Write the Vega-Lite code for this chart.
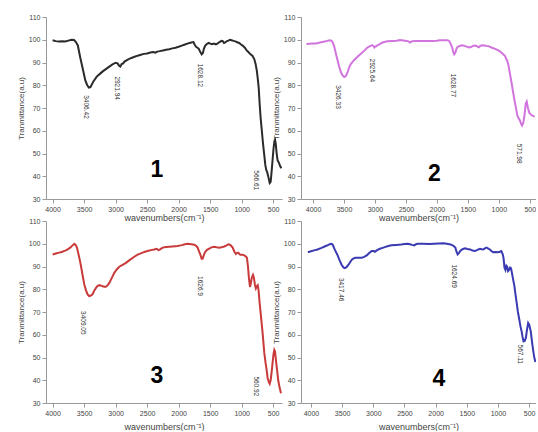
{
  "$schema": "https://vega.github.io/schema/vega-lite/v6.json",
  "background": "white",
  "padding": {"left": 17, "top": 13, "right": 0, "bottom": 0},
  "config": {
    "view": {"stroke": null},
    "font": "Liberation Sans",
    "axis": {"labelFont": "Liberation Sans", "titleFont": "Liberation Sans", "labelFontSize": 7, "labelColor": "#444", "titleColor": "#444", "titleFontWeight": "normal", "domainColor": "#999", "tickColor": "#999", "tickSize": 4, "grid": false, "labelFlush": false, "format": "d"}
  },
  "datasets": {
    "p1": [
      {"wn":4000,"t":99.8},{"wn":3950,"t":99.4},{"wn":3900,"t":99.2},{"wn":3850,"t":99.3},{"wn":3800,"t":99.2},{"wn":3750,"t":99.6},{"wn":3700,"t":100},{"wn":3660,"t":99.9},{"wn":3630,"t":99},{"wn":3600,"t":97.5},{"wn":3560,"t":92},{"wn":3520,"t":87},{"wn":3480,"t":82},{"wn":3450,"t":80},{"wn":3425,"t":79},{"wn":3400,"t":79.2},{"wn":3380,"t":80.2},{"wn":3350,"t":81.8},{"wn":3300,"t":83.8},{"wn":3250,"t":85},{"wn":3200,"t":86.2},{"wn":3150,"t":87.2},{"wn":3100,"t":88.2},{"wn":3050,"t":89.2},{"wn":3000,"t":89.9},{"wn":2970,"t":89.6},{"wn":2945,"t":88.6},{"wn":2925,"t":88.2},{"wn":2905,"t":89.3},{"wn":2880,"t":89.6},{"wn":2860,"t":90.4},{"wn":2800,"t":91.4},{"wn":2750,"t":92},{"wn":2700,"t":92.5},{"wn":2650,"t":93},{"wn":2600,"t":93.4},{"wn":2550,"t":93.8},{"wn":2500,"t":94},{"wn":2450,"t":94.4},{"wn":2400,"t":94.6},{"wn":2370,"t":94.3},{"wn":2340,"t":94.8},{"wn":2300,"t":95},{"wn":2250,"t":95.3},{"wn":2200,"t":95.6},{"wn":2150,"t":95.8},{"wn":2100,"t":96.2},{"wn":2050,"t":96.5},{"wn":2000,"t":96.9},{"wn":1950,"t":97.4},{"wn":1900,"t":97.9},{"wn":1850,"t":98.4},{"wn":1800,"t":98.8},{"wn":1765,"t":99},{"wn":1745,"t":97.8},{"wn":1720,"t":96.8},{"wn":1700,"t":96.5},{"wn":1680,"t":96},{"wn":1660,"t":94.8},{"wn":1635,"t":93.6},{"wn":1615,"t":94.2},{"wn":1600,"t":96},{"wn":1580,"t":97.3},{"wn":1550,"t":98.2},{"wn":1520,"t":98.6},{"wn":1500,"t":98.3},{"wn":1470,"t":98},{"wn":1440,"t":98.3},{"wn":1410,"t":98},{"wn":1380,"t":98.4},{"wn":1350,"t":99},{"wn":1320,"t":99.5},{"wn":1300,"t":99.4},{"wn":1280,"t":98.6},{"wn":1260,"t":98.8},{"wn":1240,"t":99.3},{"wn":1210,"t":99.6},{"wn":1185,"t":100},{"wn":1160,"t":99.8},{"wn":1130,"t":99.5},{"wn":1100,"t":99.3},{"wn":1070,"t":98.9},{"wn":1040,"t":98.6},{"wn":1010,"t":97.9},{"wn":980,"t":97.3},{"wn":950,"t":96.5},{"wn":920,"t":95.3},{"wn":890,"t":94.5},{"wn":860,"t":93.6},{"wn":830,"t":93},{"wn":800,"t":91.5},{"wn":780,"t":89.5},{"wn":760,"t":86.5},{"wn":745,"t":83},{"wn":730,"t":79},{"wn":715,"t":72},{"wn":700,"t":66},{"wn":680,"t":60},{"wn":660,"t":54},{"wn":640,"t":49},{"wn":625,"t":45},{"wn":610,"t":42.8},{"wn":595,"t":41.8},{"wn":575,"t":39.5},{"wn":555,"t":37},{"wn":540,"t":37.5},{"wn":525,"t":42},{"wn":510,"t":47},{"wn":495,"t":52},{"wn":480,"t":55.5},{"wn":470,"t":56},{"wn":458,"t":54},{"wn":445,"t":50},{"wn":430,"t":47},{"wn":410,"t":46},{"wn":390,"t":44.5},{"wn":370,"t":43.5}
    ],
    "p2": [
      {"wn":4106,"t":98.1},{"wn":4050,"t":98.2},{"wn":4000,"t":98.3},{"wn":3950,"t":98.4},{"wn":3920,"t":98.6},{"wn":3870,"t":98.9},{"wn":3815,"t":99.2},{"wn":3770,"t":99.5},{"wn":3735,"t":99.8},{"wn":3705,"t":99.6},{"wn":3682,"t":98.8},{"wn":3655,"t":96.8},{"wn":3629,"t":93.7},{"wn":3600,"t":90.5},{"wn":3576,"t":88},{"wn":3550,"t":85.8},{"wn":3523,"t":84.3},{"wn":3497,"t":83.6},{"wn":3470,"t":84},{"wn":3445,"t":85.5},{"wn":3417,"t":87.8},{"wn":3390,"t":89.3},{"wn":3338,"t":91},{"wn":3290,"t":92.3},{"wn":3232,"t":93.7},{"wn":3180,"t":95},{"wn":3126,"t":96.5},{"wn":3080,"t":97.2},{"wn":3046,"t":97.6},{"wn":3025,"t":97.3},{"wn":3009,"t":96.6},{"wn":2990,"t":97},{"wn":2967,"t":97.4},{"wn":2930,"t":98},{"wn":2887,"t":98.7},{"wn":2820,"t":99.2},{"wn":2755,"t":99.4},{"wn":2700,"t":99.5},{"wn":2650,"t":99.6},{"wn":2596,"t":99.9},{"wn":2540,"t":99.7},{"wn":2490,"t":99.5},{"wn":2460,"t":99.3},{"wn":2437,"t":98.8},{"wn":2410,"t":99.2},{"wn":2357,"t":99.5},{"wn":2300,"t":99.5},{"wn":2200,"t":99.4},{"wn":2100,"t":99.5},{"wn":2066,"t":99.4},{"wn":2000,"t":99.6},{"wn":1960,"t":99.8},{"wn":1900,"t":99.8},{"wn":1827,"t":99.8},{"wn":1800,"t":99.4},{"wn":1774,"t":98},{"wn":1750,"t":96.3},{"wn":1735,"t":94.5},{"wn":1721,"t":93.6},{"wn":1700,"t":94.5},{"wn":1685,"t":96},{"wn":1668,"t":96.7},{"wn":1640,"t":97.2},{"wn":1600,"t":97.6},{"wn":1562,"t":97.4},{"wn":1520,"t":97},{"wn":1483,"t":96.6},{"wn":1450,"t":96.8},{"wn":1420,"t":97.3},{"wn":1377,"t":97.5},{"wn":1350,"t":97.1},{"wn":1324,"t":96.7},{"wn":1300,"t":97.3},{"wn":1271,"t":97.6},{"wn":1230,"t":97.5},{"wn":1200,"t":97.3},{"wn":1165,"t":97.2},{"wn":1120,"t":96.6},{"wn":1059,"t":96},{"wn":1000,"t":95.2},{"wn":950,"t":94.2},{"wn":900,"t":92.8},{"wn":870,"t":91},{"wn":850,"t":89.5},{"wn":820,"t":85},{"wn":794,"t":81},{"wn":770,"t":77},{"wn":741,"t":72.5},{"wn":720,"t":69.5},{"wn":700,"t":66.5},{"wn":680,"t":65.5},{"wn":660,"t":64.5},{"wn":640,"t":63},{"wn":625,"t":62.3},{"wn":605,"t":63.5},{"wn":585,"t":67},{"wn":565,"t":72},{"wn":550,"t":72.8},{"wn":530,"t":70},{"wn":510,"t":68},{"wn":480,"t":67},{"wn":450,"t":66.5},{"wn":420,"t":66.2}
    ],
    "p3": [
      {"wn":4000,"t":95.3},{"wn":3950,"t":95.7},{"wn":3900,"t":96.1},{"wn":3868,"t":96.3},{"wn":3800,"t":97},{"wn":3762,"t":97.5},{"wn":3720,"t":98.3},{"wn":3683,"t":99.3},{"wn":3656,"t":100},{"wn":3635,"t":99.5},{"wn":3614,"t":98.3},{"wn":3590,"t":95.5},{"wn":3570,"t":93},{"wn":3550,"t":90.2},{"wn":3520,"t":85.5},{"wn":3497,"t":82.1},{"wn":3470,"t":79.5},{"wn":3445,"t":77.7},{"wn":3420,"t":77},{"wn":3400,"t":77.1},{"wn":3380,"t":77.5},{"wn":3365,"t":77.9},{"wn":3340,"t":79.3},{"wn":3312,"t":80.6},{"wn":3285,"t":81.5},{"wn":3259,"t":81.8},{"wn":3230,"t":81.6},{"wn":3206,"t":81.3},{"wn":3180,"t":81.1},{"wn":3154,"t":81.1},{"wn":3125,"t":81.8},{"wn":3101,"t":82.8},{"wn":3060,"t":85},{"wn":3021,"t":87.2},{"wn":2980,"t":88.8},{"wn":2942,"t":89.9},{"wn":2890,"t":90.7},{"wn":2836,"t":91.6},{"wn":2780,"t":92.8},{"wn":2704,"t":94.3},{"wn":2650,"t":95.2},{"wn":2600,"t":95.8},{"wn":2545,"t":96.4},{"wn":2480,"t":96.9},{"wn":2420,"t":97.3},{"wn":2387,"t":97.5},{"wn":2350,"t":97.8},{"wn":2320,"t":97.2},{"wn":2300,"t":97.4},{"wn":2254,"t":98.3},{"wn":2200,"t":98.6},{"wn":2100,"t":98.8},{"wn":2016,"t":99},{"wn":1950,"t":99.4},{"wn":1900,"t":99.8},{"wn":1858,"t":100},{"wn":1800,"t":99.8},{"wn":1752,"t":99.6},{"wn":1720,"t":99},{"wn":1699,"t":98.3},{"wn":1675,"t":96.5},{"wn":1657,"t":95.3},{"wn":1635,"t":93.4},{"wn":1620,"t":93.4},{"wn":1600,"t":95},{"wn":1582,"t":96.3},{"wn":1550,"t":97.3},{"wn":1514,"t":97.9},{"wn":1480,"t":98.4},{"wn":1434,"t":98.7},{"wn":1400,"t":98.5},{"wn":1355,"t":98.3},{"wn":1320,"t":98.5},{"wn":1276,"t":98.8},{"wn":1240,"t":99.3},{"wn":1210,"t":99.8},{"wn":1196,"t":99.7},{"wn":1170,"t":99.2},{"wn":1143,"t":98.3},{"wn":1115,"t":96.5},{"wn":1091,"t":95.5},{"wn":1070,"t":96},{"wn":1053,"t":96},{"wn":1035,"t":95.5},{"wn":1022,"t":95.2},{"wn":990,"t":95.2},{"wn":958,"t":94.9},{"wn":930,"t":94.3},{"wn":916,"t":93.8},{"wn":900,"t":90},{"wn":885,"t":85},{"wn":868,"t":81},{"wn":855,"t":82.5},{"wn":840,"t":85},{"wn":820,"t":86.3},{"wn":805,"t":85},{"wn":790,"t":82},{"wn":775,"t":80.4},{"wn":762,"t":81.3},{"wn":745,"t":81.8},{"wn":732,"t":79.5},{"wn":715,"t":74},{"wn":694,"t":68.2},{"wn":670,"t":61.5},{"wn":641,"t":52},{"wn":620,"t":47.5},{"wn":604,"t":44.6},{"wn":588,"t":41},{"wn":570,"t":39.3},{"wn":555,"t":38.5},{"wn":540,"t":40},{"wn":525,"t":43.5},{"wn":510,"t":47.5},{"wn":495,"t":51.5},{"wn":482,"t":53.3},{"wn":470,"t":52.5},{"wn":455,"t":48.5},{"wn":440,"t":45},{"wn":420,"t":40},{"wn":400,"t":37},{"wn":376,"t":34.3}
    ],
    "p4": [
      {"wn":4050,"t":96.3},{"wn":4000,"t":96.7},{"wn":3950,"t":97.1},{"wn":3895,"t":97.5},{"wn":3830,"t":98.2},{"wn":3763,"t":99},{"wn":3720,"t":99.5},{"wn":3684,"t":100},{"wn":3660,"t":99.8},{"wn":3647,"t":99.3},{"wn":3620,"t":97.5},{"wn":3579,"t":95.3},{"wn":3545,"t":93},{"wn":3511,"t":90.9},{"wn":3480,"t":89.6},{"wn":3458,"t":89.3},{"wn":3430,"t":89.7},{"wn":3395,"t":90.9},{"wn":3370,"t":92},{"wn":3342,"t":93.1},{"wn":3315,"t":93.6},{"wn":3289,"t":93.8},{"wn":3240,"t":93.8},{"wn":3184,"t":93.8},{"wn":3140,"t":94.3},{"wn":3105,"t":94.9},{"wn":3060,"t":96},{"wn":3026,"t":96.8},{"wn":2995,"t":96.8},{"wn":2974,"t":96.5},{"wn":2940,"t":97.2},{"wn":2895,"t":97.8},{"wn":2850,"t":98.2},{"wn":2816,"t":98.5},{"wn":2760,"t":99},{"wn":2711,"t":99.3},{"wn":2630,"t":99.5},{"wn":2553,"t":99.7},{"wn":2500,"t":99.9},{"wn":2447,"t":100},{"wn":2410,"t":99.8},{"wn":2380,"t":99.5},{"wn":2342,"t":99.3},{"wn":2315,"t":99.8},{"wn":2289,"t":100},{"wn":2200,"t":100},{"wn":2100,"t":99.9},{"wn":2026,"t":100},{"wn":1950,"t":100.1},{"wn":1868,"t":100.2},{"wn":1800,"t":99.9},{"wn":1763,"t":99.7},{"wn":1720,"t":99.2},{"wn":1684,"t":98.3},{"wn":1665,"t":96.5},{"wn":1647,"t":95.3},{"wn":1625,"t":96},{"wn":1605,"t":96.8},{"wn":1570,"t":97.6},{"wn":1526,"t":98},{"wn":1490,"t":97.7},{"wn":1447,"t":97.5},{"wn":1410,"t":97},{"wn":1368,"t":96.8},{"wn":1330,"t":97.3},{"wn":1289,"t":97.8},{"wn":1260,"t":97.6},{"wn":1237,"t":97.5},{"wn":1210,"t":98},{"wn":1184,"t":98.3},{"wn":1160,"t":98},{"wn":1132,"t":97.5},{"wn":1105,"t":96.8},{"wn":1079,"t":96.3},{"wn":1040,"t":96.4},{"wn":1000,"t":96.3},{"wn":970,"t":96.5},{"wn":947,"t":96.8},{"wn":925,"t":95.5},{"wn":911,"t":93.8},{"wn":895,"t":89.5},{"wn":880,"t":88.5},{"wn":865,"t":90.3},{"wn":850,"t":89.8},{"wn":838,"t":88},{"wn":822,"t":88.5},{"wn":805,"t":89.5},{"wn":790,"t":89.2},{"wn":775,"t":87},{"wn":755,"t":84},{"wn":737,"t":81.5},{"wn":720,"t":78},{"wn":700,"t":74},{"wn":680,"t":70},{"wn":658,"t":66.7},{"wn":640,"t":63.8},{"wn":621,"t":61.5},{"wn":605,"t":59},{"wn":590,"t":57.1},{"wn":572,"t":57.3},{"wn":553,"t":58.6},{"wn":535,"t":62},{"wn":516,"t":65.2},{"wn":500,"t":64.5},{"wn":474,"t":61.5},{"wn":450,"t":56},{"wn":421,"t":50.5},{"wn":400,"t":48}
    ],
    "peaks": [
      {"panel":1,"wn":3471,"t":75.6,"label":"3406.42"},
      {"panel":1,"wn":2984,"t":83.9,"label":"2921.94"},
      {"panel":1,"wn":1662,"t":89.5,"label":"1628.12"},
      {"panel":1,"wn":773,"t":42.6,"label":"566.61"},
      {"panel":2,"wn":3592,"t":80,"label":"3426.33"},
      {"panel":2,"wn":3046,"t":91.7,"label":"2925.64"},
      {"panel":2,"wn":1737,"t":85.1,"label":"1628.77"},
      {"panel":2,"wn":677,"t":54.3,"label":"571.98"},
      {"panel":3,"wn":3524,"t":70.4,"label":"3409.05"},
      {"panel":3,"wn":1662,"t":85.8,"label":"1626.9"},
      {"panel":3,"wn":773,"t":41.7,"label":"560.92"},
      {"panel":4,"wn":3511,"t":85,"label":"3417.46"},
      {"panel":4,"wn":1711,"t":90.9,"label":"1624.69"},
      {"panel":4,"wn":642,"t":55.7,"label":"567.11"}
    ],
    "nums": [
      {"panel":1,"wn":2344,"t":42.6,"label":"1"},
      {"panel":2,"wn":2039,"t":41.1,"label":"2"},
      {"panel":3,"wn":2344,"t":42,"label":"3"},
      {"panel":4,"wn":1947,"t":40.5,"label":"4"}
    ]
  },
  "concat": [
    {
      "width": 236, "height": 182,
      "encoding": {
        "x": {"field": "wn", "type": "quantitative", "scale": {"domain": [4105, 360], "nice": false, "zero": false}, "axis": {"values": [4000,3500,3000,2500,2000,1500,1000,500], "title": "wavenumbers(cm⁻¹)", "titleFontSize": 9, "titlePadding": 1}},
        "y": {"field": "t", "type": "quantitative", "scale": {"domain": [30, 110], "nice": false, "zero": false}, "axis": {"values": [30,40,50,60,70,80,90,100,110], "title": "Tranmittance(a.u)", "titleFontSize": 8, "titlePadding": 3}}
      },
      "layer": [
        {"data": {"name": "p1"}, "mark": {"type": "line", "color": "#2b2b2b", "strokeWidth": 2, "clip": true}},
        {"data": {"name": "peaks"}, "transform": [{"filter": "datum.panel == 1"}], "mark": {"type": "text", "angle": 90, "align": "left", "baseline": "middle", "fontSize": 6.5, "color": "#333"}, "encoding": {"text": {"field": "label"}}},
        {"data": {"name": "nums"}, "transform": [{"filter": "datum.panel == 1"}], "mark": {"type": "text", "align": "center", "baseline": "middle", "fontSize": 23, "fontWeight": "bold", "color": "#000"}, "encoding": {"text": {"field": "label"}}}
      ]
    },
    {
      "width": 235, "height": 182,
      "encoding": {
        "x": {"field": "wn", "type": "quantitative", "scale": {"domain": [4194, 400], "nice": false, "zero": false}, "axis": {"values": [4000,3500,3000,2500,2000,1500,1000,500], "title": "wavenumbers(cm⁻¹)", "titleFontSize": 9, "titlePadding": 1}},
        "y": {"field": "t", "type": "quantitative", "scale": {"domain": [30, 110], "nice": false, "zero": false}, "axis": {"values": [30,40,50,60,70,80,90,100,110], "title": "Tranmittance(a.u)", "titleFontSize": 8, "titlePadding": 3}}
      },
      "layer": [
        {"data": {"name": "p2"}, "mark": {"type": "line", "color": "#d274dd", "strokeWidth": 2, "clip": true}},
        {"data": {"name": "peaks"}, "transform": [{"filter": "datum.panel == 2"}], "mark": {"type": "text", "angle": 90, "align": "left", "baseline": "middle", "fontSize": 6.5, "color": "#333"}, "encoding": {"text": {"field": "label"}}},
        {"data": {"name": "nums"}, "transform": [{"filter": "datum.panel == 2"}], "mark": {"type": "text", "align": "center", "baseline": "middle", "fontSize": 23, "fontWeight": "bold", "color": "#000"}, "encoding": {"text": {"field": "label"}}}
      ]
    },
    {
      "width": 236, "height": 182,
      "encoding": {
        "x": {"field": "wn", "type": "quantitative", "scale": {"domain": [4105, 360], "nice": false, "zero": false}, "axis": {"values": [4000,3500,3000,2500,2000,1500,1000,500], "title": "wavenumbers(cm⁻¹)", "titleFontSize": 9, "titlePadding": 6}},
        "y": {"field": "t", "type": "quantitative", "scale": {"domain": [30, 110], "nice": false, "zero": false}, "axis": {"values": [30,40,50,60,70,80,90,100,110], "title": "Tranmittance(a.u)", "titleFontSize": 8, "titlePadding": 3}}
      },
      "layer": [
        {"data": {"name": "p3"}, "mark": {"type": "line", "color": "#c93a3a", "strokeWidth": 2, "clip": true}},
        {"data": {"name": "peaks"}, "transform": [{"filter": "datum.panel == 3"}], "mark": {"type": "text", "angle": 90, "align": "left", "baseline": "middle", "fontSize": 6.5, "color": "#333"}, "encoding": {"text": {"field": "label"}}},
        {"data": {"name": "nums"}, "transform": [{"filter": "datum.panel == 3"}], "mark": {"type": "text", "align": "center", "baseline": "middle", "fontSize": 23, "fontWeight": "bold", "color": "#000"}, "encoding": {"text": {"field": "label"}}}
      ]
    },
    {
      "width": 235, "height": 182,
      "encoding": {
        "x": {"field": "wn", "type": "quantitative", "scale": {"domain": [4160, 390], "nice": false, "zero": false}, "axis": {"values": [4000,3500,3000,2500,2000,1500,1000,500], "title": "wavenumbers(cm⁻¹)", "titleFontSize": 9, "titlePadding": 6}},
        "y": {"field": "t", "type": "quantitative", "scale": {"domain": [30, 110], "nice": false, "zero": false}, "axis": {"values": [30,40,50,60,70,80,90,100,110], "title": "Tranmittance(a.u)", "titleFontSize": 8, "titlePadding": 3}}
      },
      "layer": [
        {"data": {"name": "p4"}, "mark": {"type": "line", "color": "#3a3ab2", "strokeWidth": 2, "clip": true}},
        {"data": {"name": "peaks"}, "transform": [{"filter": "datum.panel == 4"}], "mark": {"type": "text", "angle": 90, "align": "left", "baseline": "middle", "fontSize": 6.5, "color": "#333"}, "encoding": {"text": {"field": "label"}}},
        {"data": {"name": "nums"}, "transform": [{"filter": "datum.panel == 4"}], "mark": {"type": "text", "align": "center", "baseline": "middle", "fontSize": 23, "fontWeight": "bold", "color": "#000"}, "encoding": {"text": {"field": "label"}}}
      ]
    }
  ],
  "columns": 2,
  "spacing": {"row": 22, "column": 19},
  "bounds": "flush"
}
